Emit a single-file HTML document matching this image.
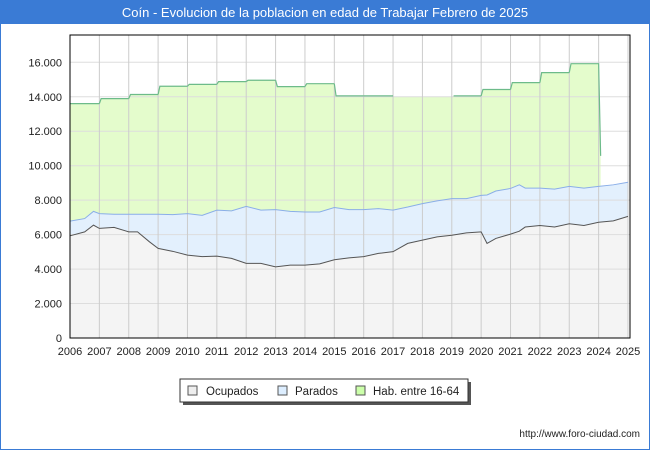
<!DOCTYPE html>
<html><head><meta charset="utf-8"><style>
body{margin:0;background:#fff;font-family:"Liberation Sans",sans-serif}
#wrap{position:relative;width:650px;height:450px;overflow:hidden;border:0}
</style></head><body>
<div id="wrap">
<svg id="svg" width="650" height="450" xmlns="http://www.w3.org/2000/svg" font-family="Liberation Sans, DejaVu Sans, sans-serif">
<rect x="0" y="0" width="650" height="450" fill="#fff"/>
<rect x="0" y="0" width="650" height="24" fill="#3a7bd5"/>
<rect x="0" y="24" width="1" height="426" fill="#3a7bd5"/><rect x="649" y="24" width="1" height="426" fill="#3a7bd5"/><rect x="0" y="449" width="650" height="1" fill="#3a7bd5"/>
<text x="325" y="17" text-anchor="middle" fill="#fff" font-size="13">Coín - Evolucion de la poblacion en edad de Trabajar Febrero de 2025</text>
<g id="plot"></g>
<g>
<rect x="183" y="382" width="288" height="23" fill="#555"/>
<rect x="180" y="379" width="288" height="23" fill="#fff" stroke="#333" stroke-width="1"/>
<rect x="188" y="386" width="9" height="9" fill="#eee" stroke="#555"/>
<text x="206" y="395" font-size="11.5" fill="#222">Ocupados</text>
<rect x="278" y="386" width="9" height="9" fill="#ddeeff" stroke="#555"/>
<text x="295" y="395" font-size="11.5" fill="#222">Parados</text>
<rect x="356" y="386" width="9" height="9" fill="#ccffaa" stroke="#555"/>
<text x="373" y="395" font-size="11.5" fill="#222">Hab. entre 16-64</text>
</g>
<text x="640" y="437" text-anchor="end" font-size="10" fill="#222">http://www.foro-ciudad.com</text>
</svg>
</div>
<script>
const years=[2006,2007,2008,2009,2010,2011,2012,2013,2014,2015,2016,2017,2018,2019,2020,2021,2022,2023,2024,2025];
const yTicks=[0,2000,4000,6000,8000,10000,12000,14000,16000];
const yTickLabels=["0","2.000","4.000","6.000","8.000","10.000","12.000","14.000","16.000"];
const habYears=[2006,2007,2008,2009,2010,2011,2012,2013,2014,2015,2016,2017,2018,2019,2020,2021,2022,2023];
const habValues=[13600,13890,14130,14610,14720,14880,14960,14590,14760,14050,14050,14000,14000,14050,14420,14820,15400,15920];
const habMissing=[2017,2018];
const habFinal=10570;
const tDates=[2006,2006.5,2006.8,2007,2007.5,2008,2008.3,2008.7,2009,2009.5,2010,2010.5,2011,2011.5,2012,2012.5,2013,2013.5,2014,2014.5,2015,2015.5,2016,2016.5,2017,2017.5,2018,2018.5,2019,2019.5,2020,2020.2,2020.5,2021,2021.3,2021.5,2022,2022.5,2023,2023.5,2024,2024.5,2025];
const ocupados=[5930,6160,6550,6360,6420,6160,6160,5590,5200,5030,4810,4720,4750,4620,4330,4330,4130,4230,4230,4300,4540,4650,4720,4910,5010,5490,5680,5870,5960,6100,6160,5490,5780,6030,6200,6440,6530,6440,6630,6530,6720,6800,7060];
const total=[6780,6930,7350,7220,7180,7180,7180,7180,7180,7160,7220,7120,7420,7380,7640,7420,7450,7350,7310,7310,7570,7450,7450,7510,7420,7600,7800,7960,8090,8090,8280,8300,8530,8680,8890,8700,8700,8640,8800,8700,8800,8890,9040];

const L=70,R=628,T=35,B=338;
const X=v=>L+(v-2006)/19*(R-L);
const Y=v=>B-v/16000*(B-62.3);
const NS='http://www.w3.org/2000/svg';
const g=document.getElementById('plot');
function mk(tag,at){const e=document.createElementNS(NS,tag);for(const k in at)e.setAttribute(k,at[k]);g.appendChild(e);return e;}
mk('rect',{x:L,y:T,width:630-L,height:B-T,fill:'#fff'});
// hab points
const hp=[];
habYears.forEach((yr,i)=>{hp.push([X(yr+(i?0.06:0)),Y(habValues[i])]);hp.push([X(yr+1),Y(habValues[i])]);});
hp.push([X(2024)+2,Y(habFinal)]);
let d='M'+hp.map(p=>p.join(',')).join(' L')+' L'+(X(2024)+2)+','+B+' L'+L+','+B+'Z';
let e=mk('path',{d:d,fill:'#e4fccc'});


const tp=tDates.map((t,i)=>[X(t),Y(total[i])]);
e=mk('path',{d:'M'+tp.map(p=>p.join(',')).join(' L')+` L${X(2025)},${B} L${L},${B}Z`,fill:'#e3f0fd'});


const op=tDates.map((t,i)=>[X(t),Y(ocupados[i])]);
e=mk('path',{d:'M'+op.map(p=>p.join(',')).join(' L')+` L${X(2025)},${B} L${L},${B}Z`,fill:'#f4f4f4'});


// grid
yTicks.forEach((v,i)=>{
 if(i>0){const l=mk('line',{x1:L,x2:630,y1:Y(v),y2:Y(v),stroke:'#ddd','stroke-width':1});}
 const t=mk('text',{x:L-8,y:Y(v)+4,'text-anchor':'end','font-size':11,fill:'#222'});t.textContent=yTickLabels[i];
 
 
});
years.forEach(yr=>{
 if(yr>2006){const l=mk('line',{x1:X(yr),x2:X(yr),y1:T,y2:B,stroke:'#ccc','stroke-width':1});}
 const t=mk('text',{x:X(yr),y:355,'text-anchor':'middle','font-size':11,fill:'#222'});t.textContent=yr;
 
 
});
// hab line segments
habYears.forEach((yr,i)=>{
 if(habMissing.includes(yr))return;
 const pts=[];
 if(i>0&&!habMissing.includes(habYears[i-1]))pts.push([X(yr),Y(habValues[i-1])]);
 pts.push([X(yr+(i?0.06:0)),Y(habValues[i])],[X(yr+1),Y(habValues[i])]);
 if(i===habYears.length-1)pts.push([X(2024)+2,Y(habFinal)]);
 const l=mk('polyline',{points:pts.map(p=>p.join(',')).join(' '),fill:'none',stroke:'#6dbb8a','stroke-width':1.2});
 
 
});
e=mk('polyline',{points:tp.map(p=>p.join(',')).join(' '),fill:'none',stroke:'#8aaee8','stroke-width':1});


e=mk('polyline',{points:op.map(p=>p.join(',')).join(' '),fill:'none',stroke:'#555','stroke-width':1});


e=mk('rect',{x:L,y:T,width:630-L,height:B-T,fill:'none',stroke:'#000','stroke-width':1});


</script>
</body></html>
